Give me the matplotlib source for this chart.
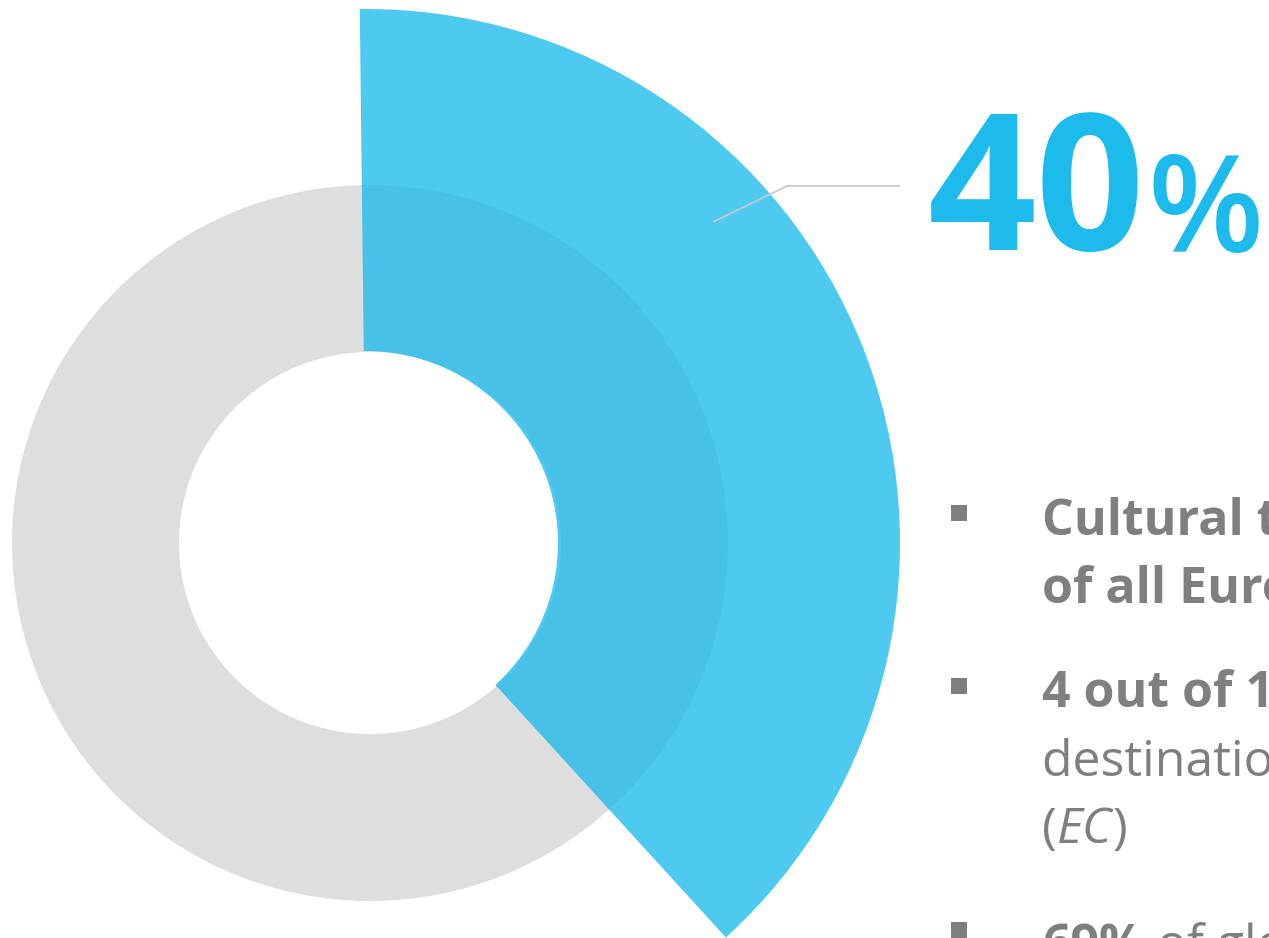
import matplotlib
matplotlib.use("Agg")
import matplotlib.pyplot as plt

plt.rcParams['font.family'] = ['Open Sans', 'DejaVu Sans']

W, H = 1269, 938

# share of the blue segment as drawn (degrees of the ring) and the rest
segments = [138.3, 221.7]
headline = "40"
headline_unit = "%"
bullets = [
    [[("Cultural tourism accounts for 40%", "bold", "normal")],
     [("of all European tourism", "bold", "normal")]],
    [[("4 out of 10 tourists", "bold", "normal")],
     [("destination based on their cultural offering", "normal", "normal")],
     [("(", "normal", "normal"), ("EC", "normal", "italic"), (")", "normal", "normal")]],
    [[("69%", "bold", "normal"), (" of global tourism", "normal", "normal")]],
]

blue = "#1CBAEC"
grey_ring = "#DEDEDE"
text_grey = "#7F7F7F"

fig = plt.figure(figsize=(W / 100, H / 100), dpi=100)
ax = fig.add_axes([0, 0, 1, 1])

# grey full ring
ax.pie([1], colors=[grey_ring], center=(370, H - 543), radius=358,
       wedgeprops=dict(width=167, linewidth=0), startangle=90)
# blue segment, bigger radius, semi transparent
wedges, _ = ax.pie(segments, colors=[blue, "none"], center=(366, H - 543), radius=534,
                   wedgeprops=dict(width=342, linewidth=0), startangle=90.67,
                   counterclock=False)
wedges[0].set_alpha(0.78)

ax.set_xlim(0, W)
ax.set_ylim(0, H)
ax.set_aspect('equal')
ax.axis('off')

# leader line
ax.plot([713, 787, 900], [H - 222, H - 186, H - 186], color="#C8C8C8", lw=1.3,
        solid_capstyle='butt')

# big number
t40 = ax.text(928, H - 250, headline, color="#1DBBEB", fontsize=137, fontweight='bold',
              va='baseline', ha='left')
fig.canvas.draw()
r = fig.canvas.get_renderer()
bb = t40.get_window_extent(r)
ax.text(bb.x1 + 2, H - 252, headline_unit, color="#1DBBEB", fontsize=97,
        fontweight='semibold', va='baseline', ha='left')

# bullets
marker_y = [513, 686, 930]
line_y = [[535, 603], [707, 776, 843], [960]]
for i, lines in enumerate(bullets):
    ax.scatter([958.5], [H - marker_y[i]], marker='s', s=16.5 ** 2 * 0.5184,
               color=text_grey, linewidths=0)
    for j, pieces in enumerate(lines):
        x = 1042
        for txt, wt, st in pieces:
            t = ax.text(x, H - line_y[i][j], txt, color=text_grey, fontsize=36,
                        fontweight=wt, fontstyle=st, va='baseline', ha='left')
            fig.canvas.draw()
            x = ax.transData.inverted().transform(
                (t.get_window_extent(r).x1, 0))[0]

fig.savefig("out.png", dpi=100)
